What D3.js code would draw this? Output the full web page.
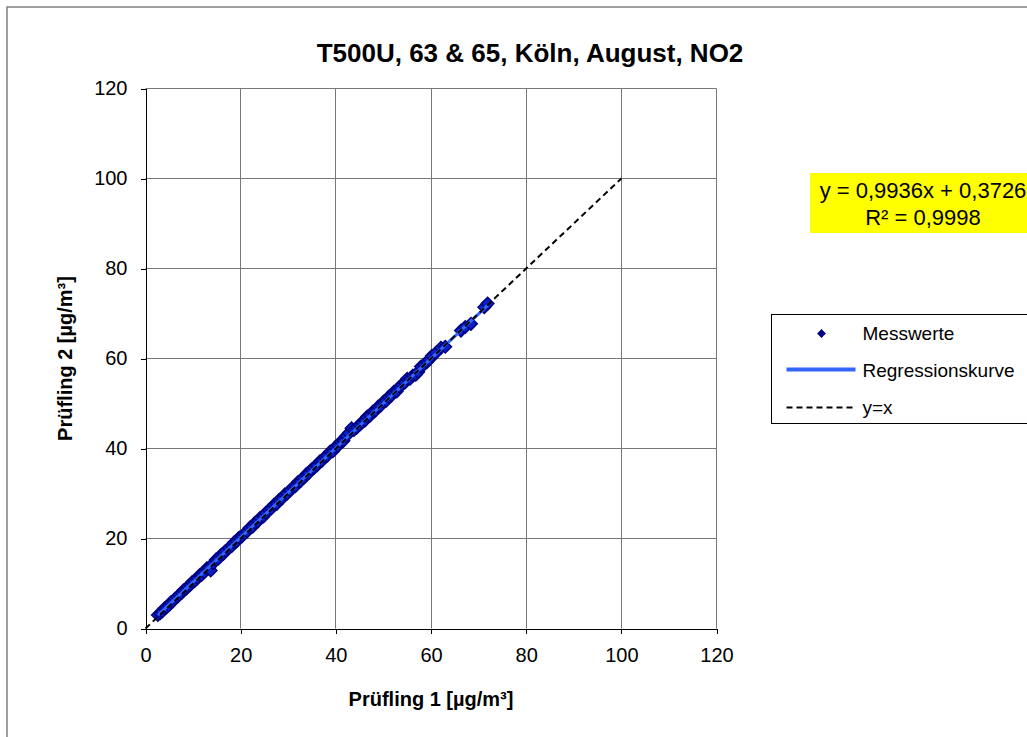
<!DOCTYPE html>
<html>
<head>
<meta charset="utf-8">
<script src="https://cdn.jsdelivr.net/npm/d3@7"></script>
<style>
  body { margin: 0; background: #fff; }
  text { font-family: "Liberation Sans", Arial, sans-serif; fill: #000; }
</style>
</head>
<body>
<div class="chart"></div>
<script>
let pruefling1 = [2.6, 3.1, 3.5, 4.0, 4.4, 4.9, 5.3, 5.8, 6.2, 6.7, 7.1, 7.6, 8.0, 8.5, 8.9, 9.4, 9.8, 10.3,
  10.9, 11.4, 11.8, 12.3, 12.9, 13.4, 13.7, 14.2, 14.8, 15.3, 15.9, 16.4, 16.8, 17.5, 18.1, 18.6, 19.2, 19.7,
  20.3, 20.8, 21.4, 21.9, 22.5, 23.0, 23.6, 24.1, 24.8, 25.3, 25.9, 26.4, 27.0, 27.6, 28.1, 28.7, 29.3, 29.8,
  30.4, 31.0, 31.5, 32.1, 32.6, 33.2, 33.8, 34.3, 34.9, 35.4, 36.0, 36.6, 37.1, 37.7, 38.2, 38.8, 39.4, 39.9,
  40.5, 41.0, 41.6, 42.2, 42.7, 43.3, 43.8, 44.4, 45.0, 45.5, 46.1, 46.6, 47.2, 47.8, 48.3, 48.9, 49.4, 50.0,
  50.6, 51.1, 51.7, 52.2, 52.8, 53.4, 53.9, 54.5, 55.0, 55.6, 56.2, 56.8, 57.3, 57.9, 58.5, 59.1, 59.6, 60.2,
  61.0, 62.1, 63.0, 66.3, 67.2, 68.4, 71.2, 71.9];
let pruefling2 = [3.0, 3.4, 3.8, 4.5, 4.7, 5.1, 5.8, 6.1, 6.6, 7.0, 7.5, 7.9, 8.5, 8.8, 9.3, 9.7, 10.3, 10.5,
  11.2, 11.9, 11.9, 12.5, 13.4, 13.5, 12.9, 14.5, 15.3, 15.5, 16.4, 16.6, 17.2, 17.9, 18.3, 19.1, 19.4, 20.2,
  20.5, 21.1, 21.6, 22.4, 22.6, 23.5, 23.8, 24.6, 24.9, 25.7, 26.3, 26.6, 27.5, 27.7, 28.6, 28.9, 29.8, 30.0,
  30.7, 31.4, 31.6, 32.6, 32.8, 33.4, 34.3, 34.5, 35.4, 35.7, 36.2, 37.1, 37.3, 38.1, 38.4, 39.3, 39.4, 40.3,
  40.6, 41.5, 41.7, 42.8, 43.4, 44.5, 44.1, 44.6, 45.3, 45.8, 46.2, 47.1, 47.3, 48.2, 48.4, 49.3, 49.5, 50.4,
  50.6, 51.5, 51.8, 52.6, 52.7, 53.7, 54.2, 54.6, 55.5, 55.5, 56.2, 56.4, 57.0, 58.2, 58.6, 59.2, 59.7, 60.6,
  61.2, 62.4, 62.6, 66.2, 67.0, 67.7, 71.4, 72.2];

// Regression from the chart's equation
let slope = 0.9936;
let intercept = 0.3726;
let identityEnd = 100;

let ticks = [0, 20, 40, 60, 80, 100, 120];
let legendLabels = ["Messwerte", "Regressionskurve", "y=x"];
let equationLines = ["y = 0,9936x + 0,3726", "R\u00b2 = 0,9998"];

let svgWidth = 1027;
let svgHeight = 737;

let margin = { top: 88, left: 145, right: 311, bottom: 109 };
let width = svgWidth - margin.left - margin.right;
let height = svgHeight - margin.top - margin.bottom;

let data = pruefling1.map((x, i) => ({ x: x, y: pruefling2[i] }));

let svg = d3.select(".chart")
  .append("svg")
  .attr("width", svgWidth)
  .attr("height", svgHeight);

// chart area frame (runs off the right and bottom edge)
svg.append("rect")
  .attr("x", 7).attr("y", 7)
  .attr("width", 1046).attr("height", 760)
  .attr("fill", "#fff")
  .attr("stroke", "#808080")
  .attr("stroke-width", 1.5);

let chartGroup = svg.append("g")
  .attr("transform", `translate(${margin.left + 0.5}, ${margin.top + 0.5})`);

let xScale = d3.scaleLinear().domain([0, 120]).range([0, width]);
let yScale = d3.scaleLinear().domain([0, 120]).range([height, 0]);

// gridlines
chartGroup.selectAll(".vgrid")
  .data(ticks.slice(1))
  .enter().append("line")
  .attr("x1", d => Math.round(xScale(d))).attr("x2", d => Math.round(xScale(d)))
  .attr("y1", 0).attr("y2", height)
  .attr("stroke", "#777").attr("stroke-width", 1);

chartGroup.selectAll(".hgrid")
  .data(ticks.slice(1))
  .enter().append("line")
  .attr("x1", 0).attr("x2", width)
  .attr("y1", d => Math.round(yScale(d))).attr("y2", d => Math.round(yScale(d)))
  .attr("stroke", "#777").attr("stroke-width", 1);

// axes
let bottomAxis = d3.axisBottom(xScale).tickValues(ticks).tickSize(5).tickPadding(14).tickSizeOuter(0);
let leftAxis = d3.axisLeft(yScale).tickValues(ticks).tickSize(5).tickPadding(13).tickSizeOuter(0);

let xAxisG = chartGroup.append("g")
  .attr("transform", `translate(0, ${height})`)
  .call(bottomAxis);
let yAxisG = chartGroup.append("g")
  .call(leftAxis);

[xAxisG, yAxisG].forEach(g => {
  g.selectAll("path, line").attr("stroke", "#000").attr("stroke-width", 1)
    .attr("shape-rendering", "crispEdges");
  g.selectAll("text")
    .style("font-size", "20px")
    .style("font-family", "'Liberation Sans', Arial, sans-serif")
    .attr("fill", "#000");
});

// Messwerte
chartGroup.selectAll(".pt")
  .data(data)
  .enter().append("path")
  .attr("d", d3.symbol().type(d3.symbolDiamond2).size(100))
  .attr("transform", d => `translate(${xScale(d.x)}, ${yScale(d.y)})`)
  .attr("fill", "#0a22c4")
  .attr("stroke", "#000080")
  .attr("stroke-width", 1.5);

// Regressionskurve
let xMin = d3.min(pruefling1), xMax = d3.max(pruefling1);
chartGroup.append("line")
  .attr("x1", xScale(xMin)).attr("y1", yScale(slope * xMin + intercept))
  .attr("x2", xScale(xMax)).attr("y2", yScale(slope * xMax + intercept))
  .attr("stroke", "#3366ff").attr("stroke-width", 3);

// y=x
chartGroup.append("line")
  .attr("x1", xScale(0)).attr("y1", yScale(0))
  .attr("x2", xScale(identityEnd)).attr("y2", yScale(identityEnd))
  .attr("stroke", "#000").attr("stroke-width", 2)
  .attr("stroke-dasharray", "6,4");

// title
svg.append("text")
  .attr("x", 530).attr("y", 62)
  .attr("text-anchor", "middle")
  .style("font-size", "26px").style("font-weight", "bold")
  .text("T500U, 63 & 65, Köln, August, NO2");

// axis labels
chartGroup.append("text")
  .attr("transform", `translate(${width / 2}, ${height + 77})`)
  .attr("text-anchor", "middle")
  .style("font-size", "20px").style("font-weight", "bold")
  .text("Prüfling 1 [µg/m³]");

chartGroup.append("text")
  .attr("transform", `translate(${71 - margin.left}, ${height / 2}) rotate(-90)`)
  .attr("text-anchor", "middle")
  .style("font-size", "20px").style("font-weight", "bold")
  .text("Prüfling 2 [µg/m³]");

// equation box
svg.append("rect")
  .attr("x", 810).attr("y", 173)
  .attr("width", 224).attr("height", 60)
  .attr("fill", "#ffff00");

svg.selectAll(".eq")
  .data(equationLines)
  .enter().append("text")
  .attr("x", 923)
  .attr("y", (d, i) => 198 + i * 27)
  .attr("text-anchor", "middle")
  .style("font-size", "22px")
  .text(d => d);

// legend
let legend = svg.append("g").attr("transform", "translate(771.5, 314.5)");
legend.append("rect")
  .attr("width", 262).attr("height", 109)
  .attr("fill", "#fff").attr("stroke", "#000").attr("stroke-width", 1);

legend.append("path")
  .attr("d", d3.symbol().type(d3.symbolDiamond2).size(50))
  .attr("transform", "translate(50, 19)")
  .attr("fill", "#000080");

legend.append("line")
  .attr("x1", 15).attr("x2", 84).attr("y1", 55).attr("y2", 55)
  .attr("stroke", "#3366ff").attr("stroke-width", 4);

legend.append("line")
  .attr("x1", 15).attr("x2", 84).attr("y1", 93).attr("y2", 93)
  .attr("stroke", "#000").attr("stroke-width", 2)
  .attr("stroke-dasharray", "6,4");

legend.selectAll(".lt")
  .data(legendLabels)
  .enter().append("text")
  .attr("x", 91)
  .attr("y", (d, i) => 25 + i * 37)
  .style("font-size", "19px")
  .text(d => d);
</script>
</body>
</html>
